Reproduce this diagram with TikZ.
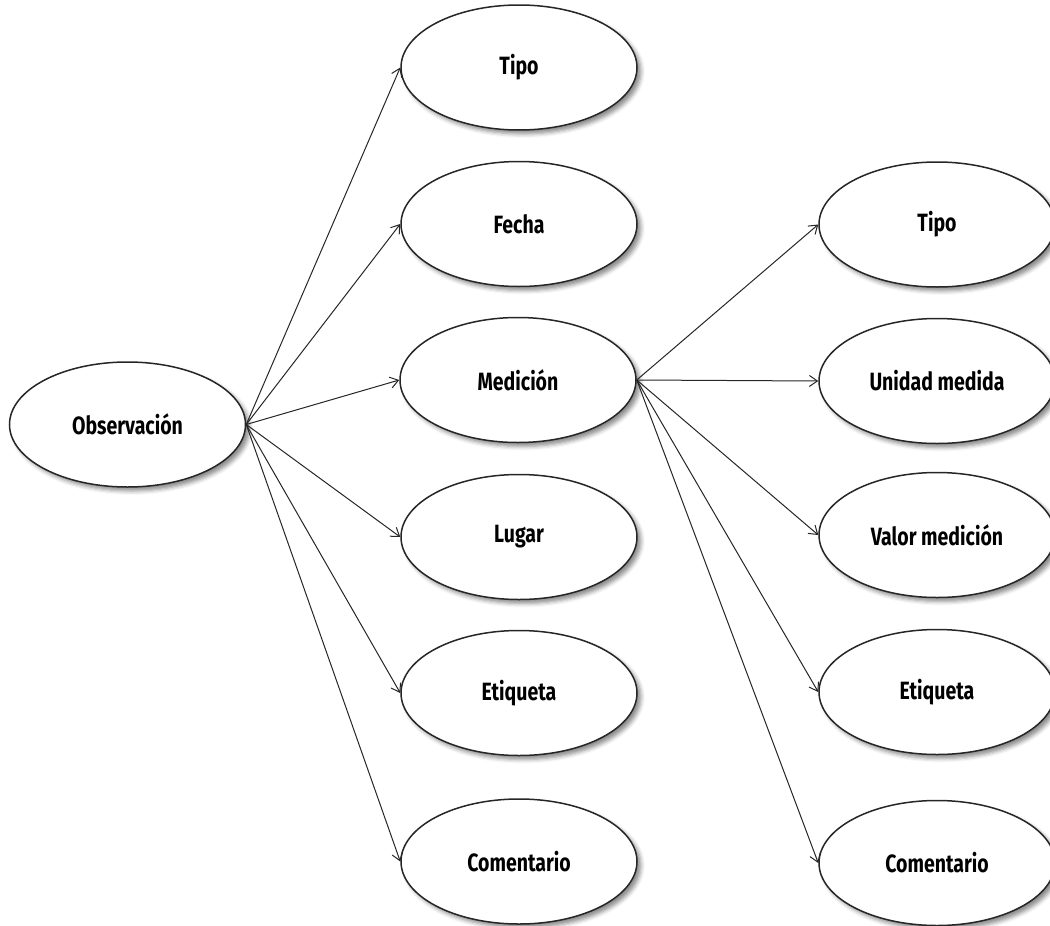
\documentclass[tikz,border=0pt]{standalone}
\usepackage{fontspec}
\setmainfont{Fira Sans}[FakeStretch=0.78]
\usetikzlibrary{shapes.geometric,arrows.meta,shadows.blur}
\begin{document}
\begin{tikzpicture}[x=1pt,y=-1pt,
  attr/.style={ellipse, draw=black!85, line width=1.5pt, fill=white,
    minimum width=236pt, minimum height=125pt, inner sep=0pt,
    font=\fontsize{25}{28}\selectfont\bfseries,
    blur shadow={shadow xshift=4pt, shadow yshift=-4pt, shadow blur radius=4pt, shadow opacity=45}},
  link/.style={draw=black!85, line width=1pt, -{Straight Barb[length=8pt,width=11pt,line width=1pt]}}]
\useasboundingbox (0,0) rectangle (1050,926);

% root
\node[attr] (obs) at (127.5,424.5) {Observación};

% first level
\node[attr] (tipo1)  at (519,67.5) {Tipo};
\node[attr] (fecha)  at (519,224)  {Fecha};
\node[attr] (med)    at (518,380)  {Medición};
\node[attr] (lugar)  at (519,537)  {Lugar};
\node[attr] (etiq1)  at (519,693)  {Etiqueta};
\node[attr] (com1)   at (519,861.5) {Comentario};

% second level
\node[attr] (tipo2)  at (937,224.5) {Tipo};
\node[attr] (unidad) at (937,381)  {Unidad medida};
\node[attr] (valor)  at (937,535)  {Valor medición};
\node[attr] (etiq2)  at (937,692)  {Etiqueta};
\node[attr] (com2)   at (937,863)  {Comentario};

% connectors
\foreach \t in {tipo1,fecha,med,lugar,etiq1,com1}
  \draw[link] (obs.east) -- (\t.west);
\foreach \t in {tipo2,unidad,valor,etiq2,com2}
  \draw[link] (med.east) -- (\t.west);
\end{tikzpicture}
\end{document}
